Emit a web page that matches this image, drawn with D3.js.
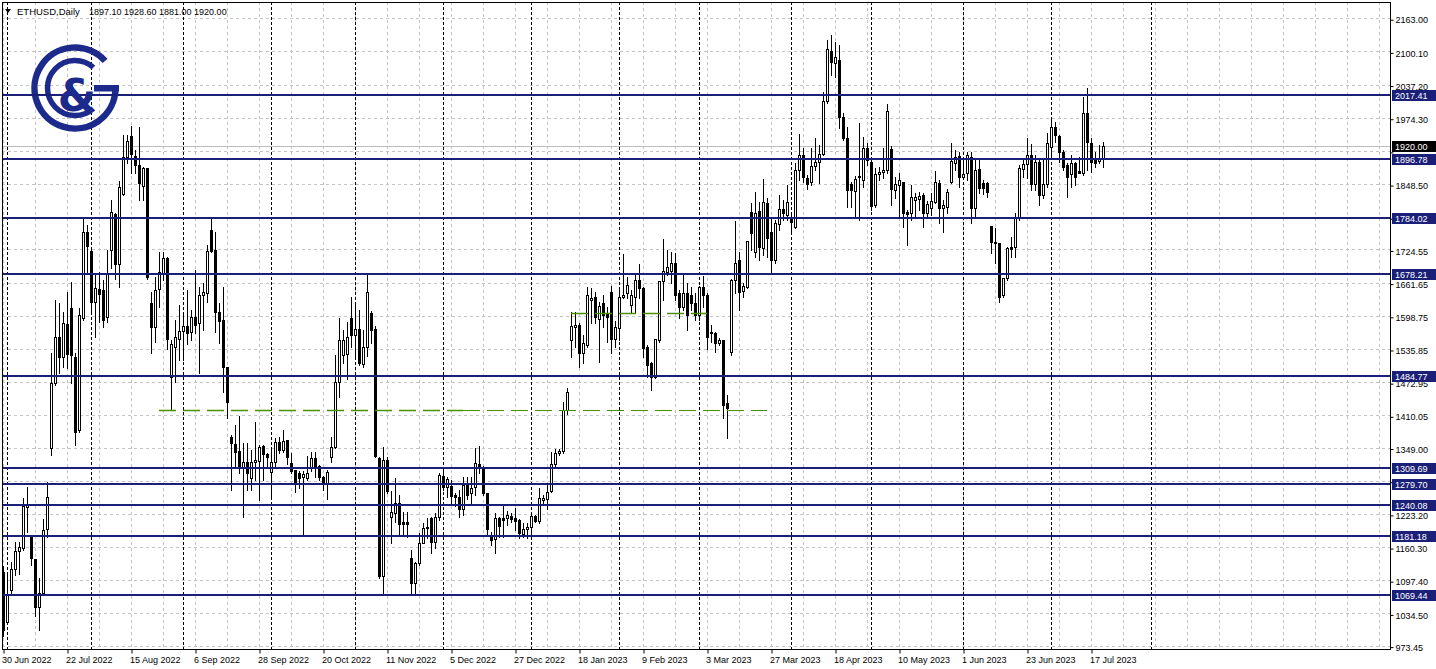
<!DOCTYPE html>
<html><head><meta charset="utf-8">
<script src="https://cdn.jsdelivr.net/npm/d3@7"></script>
<style>
body{margin:0;background:#fff;}
svg{display:block;}
text{font-family:"Liberation Sans", Arial, sans-serif;}
</style></head><body>
<svg id="c" width="1436" height="669"></svg>
<script>
// ---- data (ETHUSD Daily, weekday bars from 30 Jun 2022) ----
const symbolTitle = "ETHUSD,Daily";
const headerValues = "1897.10 1928.60 1881.00 1920.00";
const openP = [1113.0,1018.2,1078.9,1118.7,1152.8,1158.5,1236.2,1181.2,1137.7,1046.6,1073.2,1194.5,1348.1,1471.3,1558.5,1520.6,1583.2,1613.5,1520.6,1382.2,1594.6,1757.6,1721.6,1624.9,1649.6,1647.7,1596.5,1723.5,1791.8,1697.0,1829.7,1899.8,1939.6,1901.7,1884.7,1844.8,1879.0,1623.0,1577.5,1649.6,1679.9,1708.3,1482.7,1539.6,1554.8,1569.9,1579.4,1568.0,1596.5,1585.1,1638.2,1642.0,1761.4,1723.5,1605.9,1590.8,1501.7,1368.9,1355.7,1342.4,1312.1,1321.5,1291.2,1321.5,1323.4,1351.9,1336.7,1302.6,1321.5,1359.5,1344.3,1363.3,1319.6,1306.4,1300.7,1293.1,1291.2,1310.2,1329.1,1314.0,1293.1,1281.7,1331.0,1350.0,1473.2,1524.4,1526.3,1594.6,1562.3,1573.7,1507.4,1539.6,1604.1,1573.7,1329.1,1105.4,1325.3,1217.3,1224.9,1243.8,1207.8,1207.8,1139.5,1092.1,1130.1,1168.0,1196.4,1215.4,1169.9,1217.3,1295.0,1274.1,1276.0,1259.0,1255.2,1232.4,1277.9,1262.8,1274.1,1317.8,1312.1,1262.8,1181.2,1175.6,1215.4,1215.4,1215.4,1219.2,1215.4,1211.6,1185.0,1194.5,1198.3,1219.2,1209.7,1249.5,1251.4,1266.6,1317.8,1338.6,1342.4,1420.1,1552.9,1577.5,1581.3,1528.2,1543.4,1628.7,1634.4,1592.7,1623.0,1604.1,1643.9,1554.8,1575.6,1634.4,1642.0,1619.2,1634.4,1666.6,1651.5,1539.6,1509.3,1482.7,1552.9,1664.7,1681.8,1683.7,1698.9,1642.0,1615.4,1642.0,1638.2,1623.0,1600.3,1653.4,1638.2,1568.0,1566.1,1547.2,1552.9,1433.4,1530.1,1666.6,1704.5,1645.8,1653.4,1795.5,1719.7,1797.4,1727.4,1812.6,1757.6,1704.5,1772.8,1801.2,1789.9,1786.1,1767.1,1875.2,1903.6,1860.0,1852.4,1882.8,1890.3,1905.5,2006.0,2100.8,2078.0,2083.7,1975.7,1935.9,1848.6,1835.4,1861.9,1856.2,1916.9,1890.3,1808.8,1867.6,1871.4,1875.2,1915.0,1837.3,1846.7,1852.4,1795.5,1793.7,1818.3,1820.2,1827.8,1793.7,1803.1,1814.5,1850.5,1803.1,1805.0,1852.4,1888.4,1901.7,1861.9,1869.5,1899.8,1803.1,1877.1,1850.5,1850.5,1769.0,1738.7,1736.8,1638.2,1670.4,1729.2,1729.2,1784.2,1877.1,1886.6,1903.6,1848.6,1890.3,1827.8,1848.6,1918.8,1956.7,1939.6,1909.3,1884.7,1867.6,1888.4,1873.3,1869.5,1983.2,1926.4,1894.1,1892.2,1897.1];
const highP = [1124.4,1113.0,1132.0,1169.9,1169.9,1253.3,1274.1,1181.2,1137.7,1101.6,1213.5,1283.6,1528.2,1628.7,1623.0,1605.9,1643.9,1662.8,1528.2,1613.5,1782.3,1770.9,1723.5,1676.1,1681.8,1666.6,1723.5,1818.3,1793.7,1854.3,1941.5,1941.5,1958.6,1913.1,1956.7,1880.9,1879.0,1643.9,1672.3,1719.7,1719.7,1710.2,1552.9,1590.8,1619.2,1604.1,1647.7,1609.7,1685.6,1653.4,1660.9,1733.0,1784.2,1757.6,1623.0,1653.4,1501.7,1372.7,1391.7,1408.8,1357.6,1357.6,1344.3,1397.4,1353.8,1353.8,1338.6,1348.1,1367.0,1368.9,1382.2,1363.3,1338.6,1306.4,1304.5,1304.5,1332.9,1340.5,1340.5,1315.9,1295.0,1306.4,1368.9,1524.4,1594.6,1571.8,1587.0,1634.4,1623.0,1609.7,1571.8,1678.0,1607.8,1579.4,1331.0,1350.0,1331.0,1266.6,1291.2,1259.0,1226.7,1226.7,1154.7,1132.0,1186.9,1205.9,1215.4,1217.3,1224.9,1300.7,1306.4,1293.1,1287.4,1262.8,1268.5,1293.1,1293.1,1293.1,1348.1,1351.9,1314.0,1262.8,1188.8,1224.9,1217.3,1238.1,1228.6,1224.9,1234.3,1213.5,1205.9,1205.9,1221.1,1221.1,1272.2,1259.0,1279.8,1340.5,1346.2,1346.2,1435.3,1461.9,1605.9,1605.9,1585.1,1562.3,1653.4,1651.5,1643.9,1624.9,1638.2,1615.4,1655.2,1588.9,1651.5,1715.9,1672.3,1647.7,1679.9,1697.0,1653.4,1543.4,1511.1,1496.0,1566.1,1744.4,1723.5,1719.7,1717.8,1647.7,1676.1,1660.9,1653.4,1642.0,1655.2,1674.2,1642.0,1581.3,1568.0,1556.7,1552.9,1448.6,1668.5,1778.5,1719.7,1660.9,1676.1,1812.6,1833.5,1814.5,1858.1,1822.1,1786.1,1780.4,1827.8,1818.3,1846.7,1789.9,1888.4,1943.4,1916.9,1865.7,1916.9,1935.9,1922.6,2023.1,2121.7,2131.1,2117.9,2112.2,1983.3,1956.7,1852.4,1863.8,1964.3,1937.8,1926.4,1894.1,1879.0,1880.9,1916.9,2000.3,1920.7,1861.9,1869.5,1852.4,1799.3,1846.7,1831.6,1833.5,1831.6,1816.4,1831.6,1873.3,1856.2,1818.3,1839.2,1926.4,1913.1,1909.3,1894.1,1909.3,1909.3,1894.1,1897.9,1856.2,1852.4,1769.0,1765.2,1736.8,1670.4,1729.2,1748.1,1793.7,1884.7,1897.9,1935.9,1924.5,1903.6,1894.1,1894.1,1945.3,1975.7,1966.2,1941.5,1913.1,1888.4,1903.6,1890.3,1899.8,2013.6,2030.7,1935.9,1909.3,1922.6,1928.6];
const lowP = [991.6,1014.4,1073.2,1107.3,1109.2,1154.7,1188.8,1126.3,1029.5,1003.0,1069.4,1179.3,1334.8,1467.5,1490.3,1501.7,1499.8,1471.3,1353.8,1378.4,1590.8,1679.9,1605.9,1558.5,1587.0,1577.5,1587.0,1689.4,1668.5,1653.4,1827.8,1888.4,1869.5,1869.5,1818.3,1818.3,1668.5,1528.2,1549.1,1615.4,1666.6,1535.8,1420.1,1473.2,1514.9,1514.9,1545.3,1552.9,1566.1,1490.3,1571.8,1624.9,1719.7,1568.0,1547.2,1454.3,1405.0,1268.5,1312.1,1300.7,1217.3,1268.5,1268.5,1287.4,1249.5,1287.4,1312.1,1255.2,1312.1,1338.6,1340.5,1317.8,1300.7,1264.7,1272.2,1181.2,1287.4,1304.5,1293.1,1287.4,1268.5,1251.4,1321.5,1348.1,1444.8,1509.3,1478.9,1539.6,1520.6,1505.5,1501.7,1522.5,1547.2,1331.0,1101.6,1069.4,1262.8,1168.0,1207.8,1183.1,1183.1,1179.3,1073.2,1073.2,1126.3,1168.0,1177.5,1149.0,1158.5,1211.6,1268.5,1255.2,1243.8,1238.1,1217.3,1221.1,1251.4,1240.0,1259.0,1300.7,1259.0,1181.2,1164.2,1149.0,1179.3,1179.3,1202.1,1207.8,1192.6,1177.5,1179.3,1177.5,1186.9,1207.8,1205.9,1240.0,1232.4,1264.7,1312.1,1334.8,1338.6,1412.5,1520.6,1539.6,1501.7,1509.3,1539.6,1585.1,1585.1,1511.1,1577.5,1549.1,1528.2,1539.6,1552.9,1632.5,1632.5,1604.1,1604.1,1632.5,1520.6,1482.7,1458.1,1480.8,1549.1,1628.7,1676.1,1660.9,1628.7,1594.6,1609.7,1571.8,1609.7,1590.8,1590.8,1615.4,1535.8,1549.1,1530.1,1543.4,1405.0,1367.0,1524.4,1642.0,1609.7,1634.4,1651.5,1723.5,1710.2,1704.5,1714.0,1710.2,1681.8,1698.9,1761.4,1780.4,1780.4,1755.7,1765.2,1856.2,1852.4,1839.2,1846.7,1875.2,1850.5,1903.6,2002.2,2055.3,2051.5,1954.8,1932.1,1805.0,1805.0,1784.2,1780.4,1842.9,1884.7,1799.3,1805.0,1856.2,1860.0,1869.5,1808.8,1822.1,1786.1,1767.1,1733.0,1780.4,1784.2,1799.3,1767.1,1786.1,1789.9,1812.6,1774.7,1757.6,1793.7,1850.5,1875.2,1842.9,1860.0,1856.2,1774.7,1786.1,1831.6,1829.7,1824.0,1717.8,1698.9,1624.9,1634.4,1666.6,1710.2,1710.2,1780.4,1861.9,1860.0,1837.3,1837.3,1808.8,1822.1,1842.9,1899.8,1928.3,1890.3,1875.2,1824.0,1842.9,1846.7,1869.5,1865.7,1875.2,1871.4,1880.9,1888.4,1881.0];
const closeP = [1003.0,1069.4,1118.7,1152.8,1160.4,1238.1,1240.0,1139.6,1046.6,1073.2,1192.6,1255.2,1471.3,1558.5,1520.6,1585.1,1526.3,1524.4,1378.4,1600.3,1757.6,1731.1,1624.9,1651.5,1640.1,1590.8,1678.0,1795.5,1697.0,1842.9,1899.8,1930.2,1905.5,1884.7,1850.5,1879.0,1672.3,1577.5,1647.7,1681.8,1708.3,1554.8,1545.3,1558.5,1569.9,1579.4,1566.1,1596.5,1581.3,1638.2,1643.9,1721.6,1721.6,1605.9,1588.9,1501.7,1435.3,1357.6,1340.5,1310.2,1321.5,1300.7,1321.5,1325.3,1350.0,1336.7,1331.0,1321.5,1359.5,1344.3,1361.4,1331.0,1304.5,1283.6,1291.2,1298.8,1300.7,1329.1,1312.1,1293.1,1283.6,1302.6,1350.0,1473.2,1552.9,1552.9,1558.5,1562.3,1573.7,1509.3,1539.6,1643.9,1571.8,1332.9,1105.4,1325.3,1266.6,1226.7,1243.8,1204.0,1204.0,1204.0,1092.1,1130.1,1168.0,1196.4,1198.3,1169.9,1217.3,1296.9,1274.1,1289.3,1257.1,1255.2,1232.4,1277.9,1259.0,1272.2,1319.6,1310.2,1262.8,1194.5,1173.7,1215.4,1200.2,1211.6,1221.1,1213.5,1209.7,1186.9,1194.5,1198.3,1219.2,1209.7,1253.3,1253.3,1264.7,1317.8,1338.6,1342.4,1420.1,1454.3,1579.4,1581.3,1528.2,1547.2,1638.2,1632.5,1596.5,1617.3,1600.3,1596.5,1554.8,1577.5,1634.4,1638.2,1657.1,1638.2,1666.6,1651.5,1537.7,1505.5,1482.7,1554.8,1664.7,1683.7,1691.3,1698.9,1638.2,1615.4,1642.0,1600.3,1623.0,1600.3,1653.4,1638.2,1558.5,1566.1,1547.2,1552.9,1429.6,1423.9,1666.6,1698.9,1643.9,1655.2,1740.6,1755.7,1793.7,1729.2,1814.5,1746.3,1704.5,1774.7,1801.2,1793.7,1814.5,1776.6,1875.2,1903.6,1861.9,1848.6,1882.8,1890.3,1905.5,2006.0,2104.6,2079.9,2089.4,1975.7,1935.9,1837.3,1837.3,1858.1,1863.8,1916.9,1894.1,1806.9,1867.6,1871.4,1875.2,1987.0,1839.2,1848.6,1856.2,1793.7,1791.8,1824.0,1824.0,1825.9,1793.7,1810.7,1816.4,1852.4,1803.1,1808.8,1833.5,1892.2,1899.8,1861.9,1867.6,1903.6,1803.1,1875.2,1841.1,1841.1,1833.5,1738.7,1736.8,1634.4,1670.4,1727.4,1725.4,1784.2,1879.0,1886.6,1903.6,1848.6,1890.3,1827.8,1848.6,1926.4,1956.7,1941.5,1909.3,1880.9,1861.9,1888.4,1861.9,1869.5,1983.2,1928.3,1890.3,1888.4,1897.9,1920.0];
const xTickIdx = [0,16,32,48,64,80,96,112,128,144,160,176,192,208,224,240,256,272];
const xTickLabels = ["30 Jun 2022","22 Jul 2022","15 Aug 2022","6 Sep 2022","28 Sep 2022","20 Oct 2022","11 Nov 2022","5 Dec 2022","27 Dec 2022","18 Jan 2023","9 Feb 2023","3 Mar 2023","27 Mar 2023","18 Apr 2023","10 May 2023","1 Jun 2023","23 Jun 2023","17 Jul 2023"];
const monthSepIdx = [1,22,45,67,88,110,132,154,174,197,217,240,262,287];
const yTicks = [2163.00,2100.10,2037.20,1974.30,1911.40,1848.50,1785.60,1724.55,1661.65,1598.75,1535.85,1472.95,1410.05,1349.00,1286.10,1223.20,1160.30,1097.40,1034.50,973.45];
const yHiddenLabels = [1911.40,1785.60,1286.10];
const levels = [2017.41,1896.78,1784.02,1678.21,1484.77,1309.69,1279.70,1240.08,1181.18,1069.44];
const lastPrice = 1920.00;
const greenFrom = [39,115,142];
const greenTo = [115,191,176];
const greenPrice = [1420.1,1420.1,1604.6];
const greenWidth = [1.4,1,1.4];

// ---- layout ----
const svg = d3.select("#c");
const L = 2, R = 1390, T = 2, B = 649;
const nBars = openP.length;
const x = d3.scaleLinear().domain([0, nBars - 1]).range([3, 3 + 4 * (nBars - 1)]);
const y = d3.scaleLinear().domain([973.45, 2163.00]).range([645.6, 18.2]);
const px = i => Math.round(x(i));
const py = v => Math.round(y(v));
const navy = "#1a1f78";

svg.append("rect").attr("x",0).attr("y",0).attr("width",1436).attr("height",669).attr("fill","#fff");

svg.append("defs").append("clipPath").attr("id","plot")
  .append("rect").attr("x",L).attr("y",T).attr("width",R-L).attr("height",B-T);
const plot = svg.append("g").attr("clip-path","url(#plot)");

// grid vertical (every 8 bars)
const gridIdx = d3.range(0, 400, 8).filter(i => x(i) < R);
plot.append("g").selectAll("line").data(gridIdx).join("line")
  .attr("x1", d => px(d)+0.5).attr("x2", d => px(d)+0.5)
  .attr("y1", T).attr("y2", B)
  .attr("stroke","#c4c4c4").attr("stroke-dasharray","3,3");
// grid horizontal
plot.append("g").selectAll("line").data(yTicks).join("line")
  .attr("x1", L).attr("x2", R)
  .attr("y1", d => py(d)+0.5).attr("y2", d => py(d)+0.5)
  .attr("stroke","#c4c4c4").attr("stroke-dasharray","3,3");
// month separators
plot.append("g").selectAll("line").data(monthSepIdx).join("line")
  .attr("x1", d => px(d)+0.5).attr("x2", d => px(d)+0.5)
  .attr("y1", T).attr("y2", B)
  .attr("stroke","#000").attr("stroke-dasharray","3,2");
// bid line
plot.append("line").attr("x1",L).attr("x2",R)
  .attr("y1",py(lastPrice)+0.5).attr("y2",py(lastPrice)+0.5)
  .attr("stroke","#bdbdbd");

// logo
const logo = plot.append("g").attr("fill","none").attr("stroke","#1c2a8c");
const lc = [75, 88];
function arcPath(r, a0, a1) {
  const p = d3.path();
  p.arc(lc[0], lc[1], r, a0, a1, true);
  return p.toString();
}
const deg = Math.PI/180;
logo.append("path").attr("d", arcPath(40.5, -42*deg, 2*deg)).attr("stroke-width",6.5);
logo.append("path").attr("d", arcPath(27.5, -48*deg, 48*deg)).attr("stroke-width",5.5);
svg.append("rect").attr("x",94).attr("y",85).attr("width",25).attr("height",6.5).attr("fill","#1c2a8c");
svg.append("text").attr("x",77).attr("y",111).attr("text-anchor","middle")
  .attr("font-size",44).attr("font-weight","bold").attr("fill","#1c2a8c")
  .style("font-family","'DejaVu Sans', sans-serif").text("&");

// candles
const idx = d3.range(nBars);
const cg = plot.append("g");
cg.selectAll("rect.w").data(idx).join("rect").attr("class","w")
  .attr("x", i => px(i)).attr("width",1)
  .attr("y", i => py(highP[i])).attr("height", i => py(lowP[i]) - py(highP[i]) + 1)
  .attr("fill","#000");
cg.selectAll("rect.b").data(idx).join("rect").attr("class","b")
  .each(function(i){
    const top = py(Math.max(openP[i], closeP[i]));
    const bot = py(Math.min(openP[i], closeP[i]));
    const s = d3.select(this);
    if (closeP[i] >= openP[i]) {
      s.attr("x", px(i)-0.5).attr("y", top+0.5).attr("width",2).attr("height", Math.max(bot-top,0.01))
       .attr("fill","#fff").attr("stroke","#000").attr("stroke-width",1);
    } else {
      s.attr("x", px(i)-1).attr("y", top).attr("width",3).attr("height", bot-top+1).attr("fill","#000");
    }
  });

// green dashed trendlines
plot.append("g").selectAll("line").data(greenPrice.map((p,k)=>k)).join("line")
  .attr("x1", k => px(greenFrom[k])).attr("x2", k => px(greenTo[k]))
  .attr("y1", k => py(greenPrice[k])+0.5).attr("y2", k => py(greenPrice[k])+0.5)
  .attr("stroke","#4a8f00").attr("stroke-width", k => greenWidth[k]).attr("stroke-dasharray","17,7");

// level lines
plot.append("g").selectAll("rect").data(levels).join("rect")
  .attr("x", L).attr("width", R-L)
  .attr("y", d => py(d)-1).attr("height",2).attr("fill",navy);

// frame
svg.append("rect").attr("x",L+0.5).attr("y",T+0.5).attr("width",R-L).attr("height",B-T)
  .attr("fill","none").attr("stroke","#000");

// x axis
const xAxis = d3.axisBottom(d3.scaleLinear().domain(x.domain()).range(x.range().map(v=>v+0.5)))
  .tickValues(xTickIdx).tickFormat((d,k) => xTickLabels[k]).tickSize(4).tickSizeOuter(0);
const xg = svg.append("g").attr("transform",`translate(0,${B+0.5})`).call(xAxis);
xg.select(".domain").remove();
xg.selectAll("text").attr("text-anchor","start").attr("dx", -2).attr("y", 7)
  .attr("font-size",9).attr("fill","#000").style("font-family","'Liberation Sans', Arial, sans-serif");
xg.selectAll("line").attr("stroke","#000");

// y axis
const yAxis = d3.axisRight(y).tickValues(yTicks)
  .tickFormat(d => yHiddenLabels.includes(d) ? "" : d.toFixed(2)).tickSize(3).tickSizeOuter(0);
const yg = svg.append("g").attr("transform",`translate(${R+0.5},1.5)`).call(yAxis);
yg.select(".domain").remove();
yg.selectAll("text").attr("x",5).attr("dy","0.35em").attr("font-size",9).attr("fill","#000")
  .style("font-family","'Liberation Sans', Arial, sans-serif");
yg.selectAll("line").attr("stroke","#000");

// level labels
const lab = svg.append("g");
levels.forEach(v => {
  const yy = py(v);
  lab.append("rect").attr("x",R+2).attr("y",yy-5).attr("width",1436-R-2).attr("height",11).attr("fill",navy);
  lab.append("text").attr("x",R+5).attr("y",yy+4).attr("font-size",9).attr("fill","#fff").text(v.toFixed(2));
});
{
  const yy = py(lastPrice);
  lab.append("rect").attr("x",R+2).attr("y",yy-5).attr("width",1436-R-2).attr("height",11).attr("fill","#000");
  lab.append("text").attr("x",R+5).attr("y",yy+4).attr("font-size",9).attr("fill","#fff").text(lastPrice.toFixed(2));
}

// header
svg.append("path").attr("d","M5,9 L11,9 L8,13 Z").attr("fill","#000");
svg.append("text").attr("x",17).attr("y",15).attr("font-size",9.5).attr("fill","#000").text(symbolTitle);
svg.append("text").attr("x",89).attr("y",15).attr("font-size",9).attr("fill","#000").text(headerValues);
</script>
</body></html>
